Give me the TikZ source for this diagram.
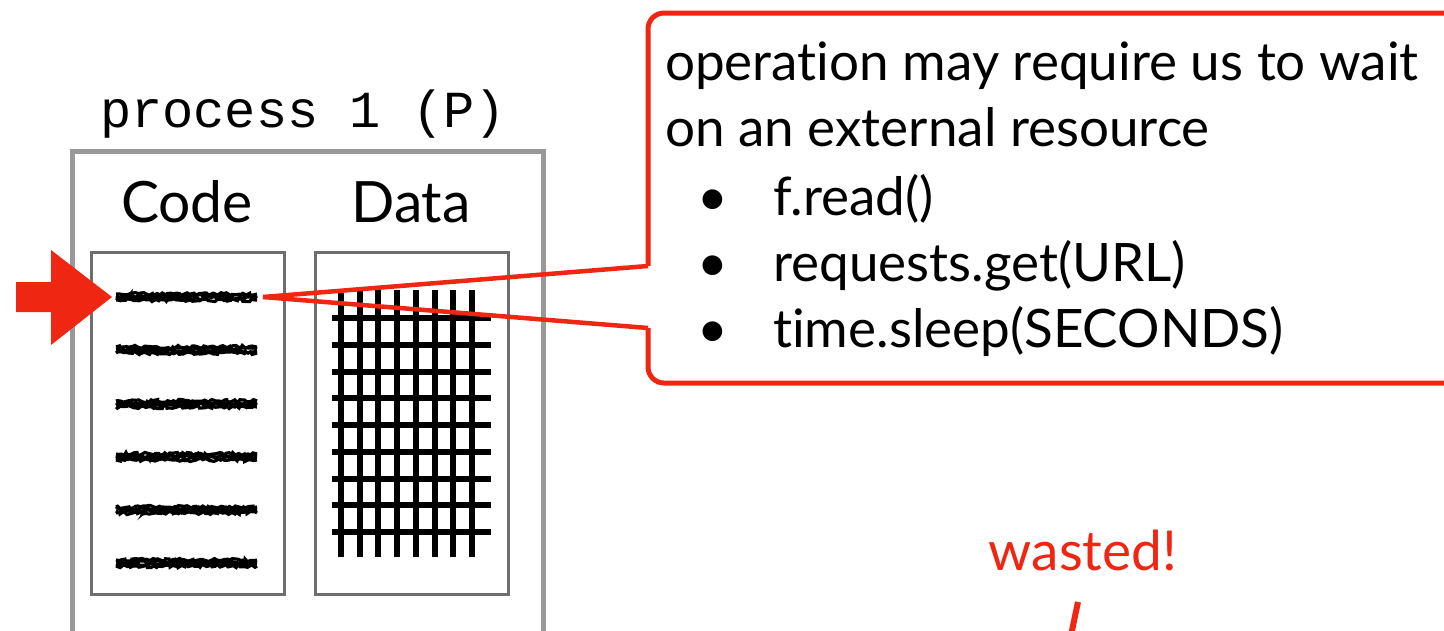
\documentclass[tikz,border=0pt]{standalone}
\usepackage{fontspec}
\setmainfont{Lato}[Ligatures={NoCommon}]
\setmonofont{Liberation Mono}
\usetikzlibrary{decorations.pathmorphing}
\definecolor{alert}{RGB}{238,38,18}
\definecolor{framegray}{RGB}{153,153,153}
\definecolor{boxgray}{RGB}{110,110,110}
\begin{document}
\begin{tikzpicture}[x=1pt,y=-1pt,
  txt/.style={font=\fontsize{53}{60}\selectfont, inner sep=0pt, anchor=base},
  ltxt/.style={txt, anchor=base west},
  seglbl/.style={txt, font=\fontsize{57}{60}\selectfont},
  mono/.style={font=\fontsize{52}{60}\ttfamily, inner sep=0pt, anchor=base},
  segbox/.style={draw=boxgray, line width=3pt, minimum width=193pt, minimum height=342pt, inner sep=0pt},
  frame/.style={draw=framegray, line width=5pt},
  scribble/.style={line width=3.2pt, decorate, decoration={random steps, segment length=2.5pt, amplitude=1.6pt}},
  gridline/.style={line width=6pt},
  callout/.style={draw=alert, line width=5pt, fill=white, rounded corners=16pt},
  pointer/.style={draw=alert, line width=4.5pt, line join=miter},
  bigarrow/.style={fill=alert},
]
\useasboundingbox (0,0) rectangle (1444,630);
\clip (0,0) rectangle (1444,630);

% process frame (open at the bottom)
\draw[frame] (72,650) -- (72,151) -- (543,151) -- (543,650);
\node[mono] (ptitle) at (303,127) {process 1 (P)};

% code and data segments
\node[segbox] (code) at (187.5,423) {};
\node[segbox] (data) at (411.5,423) {};
\node[seglbl] (codelbl) at (187,222) {Code};
\node[seglbl] (datalbl) at (411,222) {Data};

% scribbled lines of code
\pgfmathsetseed{11}
\foreach \yy in {297,350,404,457,510,563} {
  \foreach \dy in {-3,-1,1,3}
    \draw[scribble] (116,\yy+\dy) -- (257,\yy+\dy);
}
\coordinate (op) at (263,297);

% data grid
\foreach \i in {0,...,7}
  \draw[gridline] (341+18.7*\i,290) -- (341+18.7*\i,557);
\foreach \j in {0,...,8}
  \draw[gridline] (332,318+26.75*\j) -- (491,318+26.75*\j);

% instruction pointer
\fill[bigarrow] (16,282) -- (51,282) -- (51,250) -- (112,297) -- (51,345) -- (51,312) -- (16,312) -- cycle;

% callout
\coordinate (ctop) at (648,266);
\coordinate (cbot) at (648,328);
\draw[callout] (ctop) -- (648,13) -- (1475,13) -- (1475,383) -- (648,383) -- (cbot);
\draw[pointer] (ctop) -- (op) -- (cbot);

\node[ltxt] (l1) at (665,80) {operation may require us to wait};
\node[ltxt] (l2) at (665,146) {on an external resource};
\node[txt] (b1) at (713,215) {\textbullet};
\node[txt] (b2) at (713,281) {\textbullet};
\node[txt] (b3) at (713,347) {\textbullet};
\node[ltxt] (i1) at (773,215) {f.read()};
\node[ltxt] (i2) at (773,281) {requests.get(URL)};
\node[ltxt] (i3) at (773,347) {time.sleep(SECONDS)};

% wasted marker
\node[txt, text=alert, font=\fontsize{55}{60}\selectfont] (wasted) at (1083,570) {wasted!};
\coordinate (wtop) at (1078,602);
\coordinate (wbot) at (1070,640);
\draw[alert, line width=6pt] (wtop) -- (wbot);
\end{tikzpicture}
\end{document}
